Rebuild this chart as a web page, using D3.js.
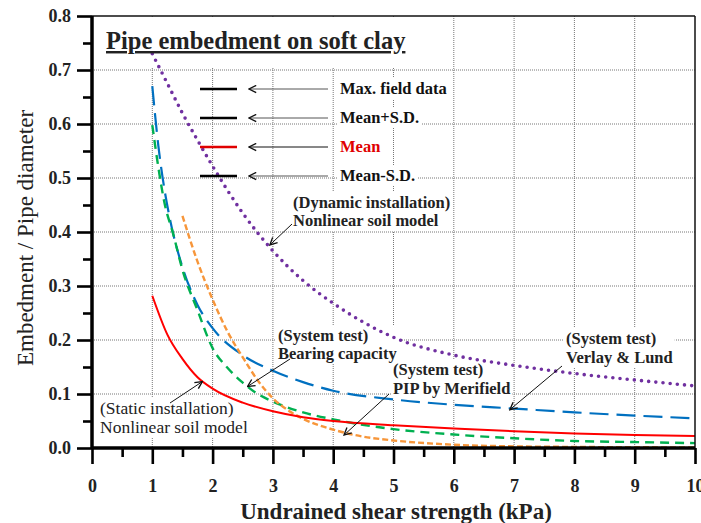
<!DOCTYPE html>
<html>
<head>
<meta charset="utf-8">
<title>Pipe embedment on soft clay</title>
<script src="https://d3js.org/d3.v7.min.js"></script>
<style>
  body { margin: 0; background: white; }
  svg text { font-family: "Liberation Serif", "DejaVu Serif", serif; font-weight: bold; fill: #222; }
</style>
</head>
<body>
<svg width="701" height="523"></svg>
<script>
// ---- data ----
const xTickValues = [0, 1, 2, 3, 4, 5, 6, 7, 8, 9, 10];
const yTickValues = [0.0, 0.1, 0.2, 0.3, 0.4, 0.5, 0.6, 0.7, 0.8];

// (Dynamic installation) nonlinear soil model - purple dots
const dynX = [1, 1.25, 1.5, 1.75, 2, 2.5, 3, 3.5, 4, 4.5, 5, 6, 7, 8, 9, 10];
const dynY = [0.73, 0.675, 0.62, 0.57, 0.522, 0.435, 0.365, 0.31, 0.268, 0.233, 0.205, 0.172, 0.153, 0.138, 0.126, 0.115];

// (System test) Verlay & Lund - blue long dash
const verX = [1, 1.1, 1.2, 1.3, 1.5, 1.75, 2, 2.5, 3, 3.5, 4, 5, 6, 7, 8, 9, 10];
const verY = [0.67, 0.56, 0.48, 0.42, 0.335, 0.265, 0.222, 0.172, 0.143, 0.122, 0.106, 0.09, 0.08, 0.073, 0.066, 0.06, 0.055];

// (System test) PIP by Merifield - green dash
const pipX = [1, 1.1, 1.2, 1.35, 1.5, 1.75, 2, 2.25, 2.5, 2.75, 3, 3.5, 4, 5, 6, 7, 8, 9, 10];
const pipY = [0.598, 0.52, 0.455, 0.395, 0.33, 0.255, 0.185, 0.148, 0.121, 0.1, 0.086, 0.066, 0.053, 0.035, 0.025, 0.018, 0.013, 0.011, 0.009];

// (System test) Bearing capacity - orange short dash
const bearX = [1.5, 1.75, 2, 2.25, 2.5, 2.75, 3, 3.25, 3.5, 4, 4.5, 5, 6, 7, 8, 10];
const bearY = [0.43, 0.345, 0.275, 0.215, 0.168, 0.125, 0.092, 0.07, 0.054, 0.034, 0.021, 0.014, 0.006, 0.003, 0.002, 0.001];

// (Static installation) nonlinear soil model - red solid
const statX = [1, 1.25, 1.5, 1.75, 2, 2.5, 3, 3.5, 4, 5, 6, 7, 8, 9, 10];
const statY = [0.282, 0.21, 0.165, 0.131, 0.11, 0.084, 0.068, 0.057, 0.05, 0.042, 0.036, 0.031, 0.027, 0.024, 0.022];

const legendLabels = ["Max. field data", "Mean+S.D.", "Mean", "Mean-S.D."];
const legendColors = ["#111", "#111", "#e00000", "#111"];

const svg = d3.select("svg");
const x = d3.scaleLinear().domain([0, 10]).range([92, 695]);
const y = d3.scaleLinear().domain([0, 0.8]).range([448, 16]);

// open arrow head, tip at the end of the line
svg.append("defs").append("marker")
  .attr("id", "arr")
  .attr("viewBox", "0 0 10 10")
  .attr("refX", 9).attr("refY", 5)
  .attr("markerWidth", 9).attr("markerHeight", 9)
  .attr("markerUnits", "userSpaceOnUse")
  .attr("orient", "auto")
  .append("path")
  .attr("d", "M1,1 L9,5 L1,9")
  .attr("fill", "none").attr("stroke", "#111").attr("stroke-width", 1.5);

// grid
const grid = svg.append("g");
grid.selectAll("line.v").data(xTickValues.slice(1, -1)).join("line")
  .attr("x1", d => x(d)).attr("x2", d => x(d))
  .attr("y1", y(0.8)).attr("y2", y(0))
  .attr("stroke", "#777").attr("stroke-width", 1).attr("stroke-dasharray", "1,1");
grid.selectAll("line.h").data(yTickValues.slice(1, -1)).join("line")
  .attr("x1", x(0)).attr("x2", x(10))
  .attr("y1", d => y(d)).attr("y2", d => y(d))
  .attr("stroke", "#777").attr("stroke-width", 1).attr("stroke-dasharray", "1,1");

const boxes = svg.append("g");
const curves = svg.append("g");
const labels = svg.append("g");

function label(lines, lx, ly, opts = {}) {
  const size = opts.size || 16.5;
  const gap = opts.gap || 18;
  const t = labels.append("text")
    .attr("x", lx).attr("y", ly)
    .style("font-size", size + "px")
    .style("font-weight", opts.weight || "bold")
    .style("fill", opts.color || "#222");
  lines.forEach((s, i) => {
    t.append("tspan").attr("x", lx).attr("y", ly + i * gap).text(s);
  });
  const b = t.node().getBBox();
  boxes.append("rect")
    .attr("x", b.x - 2).attr("y", b.y - 1)
    .attr("width", b.width + 4).attr("height", b.height + 2)
    .attr("fill", "white");
  return t;
}

function arrow(x1, y1, x2, y2, color) {
  labels.append("line")
    .attr("x1", x1).attr("y1", y1).attr("x2", x2).attr("y2", y2)
    .attr("stroke", color || "#111").attr("stroke-width", 1)
    .attr("marker-end", "url(#arr)");
}

// title with white area behind it
boxes.append("rect").attr("x", 100).attr("y", 18).attr("width", 322).attr("height", 50).attr("fill", "white");
labels.append("text")
  .attr("x", 106).attr("y", 49)
  .style("font-size", "24.5px")
  .style("text-decoration", "underline")
  .text("Pipe embedment on soft clay");

// curves
const line = d3.line().x(d => x(d[0])).y(d => y(d[1])).curve(d3.curveMonotoneX);
const series = [
  { xs: dynX, ys: dynY, color: "#7030a0", w: 3.6, dash: "0,7.2", cap: "round" },
  { xs: verX, ys: verY, color: "#0070c0", w: 2.2, dash: "19,8", cap: "butt" },
  { xs: pipX, ys: pipY, color: "#00b050", w: 2.4, dash: "9,6", cap: "butt" },
  { xs: bearX, ys: bearY, color: "#f7963a", w: 2.4, dash: "6,3", cap: "butt" },
  { xs: statX, ys: statY, color: "#ff0000", w: 2, dash: null, cap: "butt" }
];
series.forEach(s => {
  curves.append("path")
    .datum(s.xs.map((v, i) => [v, s.ys[i]]))
    .attr("d", line)
    .attr("fill", "none")
    .attr("stroke", s.color)
    .attr("stroke-width", s.w)
    .attr("stroke-linecap", s.cap)
    .attr("stroke-dasharray", s.dash);
});

// legend
legendLabels.forEach((name, i) => {
  const ly = 89 + i * 29;
  label([name], 340, ly + 5, { color: legendColors[i] });
  labels.append("line").attr("x1", 200).attr("x2", 237).attr("y1", ly).attr("y2", ly)
    .attr("stroke", legendColors[i] === "#111" ? "#000" : legendColors[i]).attr("stroke-width", 2.5);
  arrow(328, ly, 249, ly, i === 2 ? "#111" : "#555");
});

// annotations
label(["(Dynamic installation)", "Nonlinear soil model"], 293, 208, { gap: 18 });
arrow(292, 224, x(2.95), y(0.376));

label(["(System test)", "Bearing capacity"], 278, 341, { gap: 18 });
arrow(290, 359, x(2.58), y(0.114));

label(["(System test)", "PIP by Merifield"], 393, 375, { gap: 19 });
arrow(389, 394, x(4.18), y(0.024));

label(["(System test)", "Verlay & Lund"], 566, 344, { gap: 19 });
arrow(562, 366, x(6.93), y(0.071));

label(["(Static installation)", "Nonlinear soil model"], 100, 414, { gap: 19, weight: "normal", size: 17.5 });
arrow(170, 403, x(1.83), y(0.123));

// frame
svg.append("line").attr("x1", x(0)).attr("x2", x(10)).attr("y1", y(0.8)).attr("y2", y(0.8)).attr("stroke", "#111").attr("stroke-width", 1.5);
svg.append("line").attr("x1", x(10)).attr("x2", x(10)).attr("y1", y(0.8)).attr("y2", y(0)).attr("stroke", "#111").attr("stroke-width", 1.5);

// y axis
const yAxis = svg.append("g").attr("transform", `translate(${x(0)},0)`)
  .call(d3.axisLeft(y).tickValues(yTickValues).tickFormat(d3.format(".1f")).tickSize(15).tickPadding(6));
const yMinor = svg.append("g").attr("transform", `translate(${x(0)},0)`)
  .call(d3.axisLeft(y).tickValues(d3.range(0.05, 0.8, 0.1)).tickSize(9).tickFormat(""));
// x axis
const xAxis = svg.append("g").attr("transform", `translate(0,${y(0)})`)
  .call(d3.axisBottom(x).tickValues(xTickValues).tickSize(16).tickPadding(15));
const xMinor = svg.append("g").attr("transform", `translate(0,${y(0)})`)
  .call(d3.axisBottom(x).tickValues(d3.range(0.5, 10, 1)).tickSize(9).tickFormat(""));

[yAxis, yMinor, xAxis, xMinor].forEach(g => {
  g.select(".domain").attr("stroke", "#000").attr("stroke-width", 3.5);
  g.selectAll(".tick line").attr("stroke", "#000").attr("stroke-width", 2.6);
  g.selectAll(".tick text").style("font-size", "18px").style("font-family", "'Liberation Serif', serif").style("font-weight", "bold").attr("fill", "#222");
});
yAxis.select(".domain").attr("d", `M0,${y(0)}V${y(0.8)}`);
yMinor.select(".domain").remove();
xMinor.select(".domain").remove();
xAxis.select(".domain").attr("d", `M0,0H${x(10) - x(0)}`).attr("transform", `translate(${x(0)},0)`);

// axis titles
svg.append("text")
  .attr("x", 396).attr("y", 519)
  .attr("text-anchor", "middle")
  .style("font-size", "23px")
  .text("Undrained shear strength (kPa)");
svg.append("text")
  .attr("transform", "translate(33,238) rotate(-90)")
  .attr("text-anchor", "middle")
  .style("font-size", "23px")
  .style("font-weight", "normal")
  .text("Embedment / Pipe diameter");
</script>
</body>
</html>
